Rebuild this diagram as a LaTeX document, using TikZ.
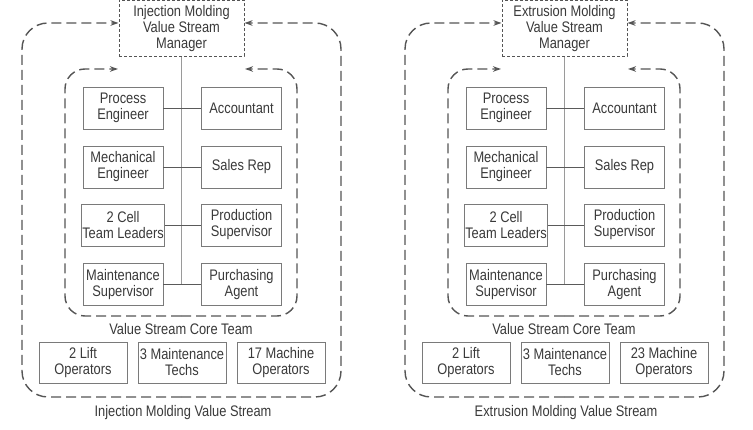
\documentclass[tikz,border=0pt]{standalone}
\usepackage{fontspec}
\setmainfont[FakeStretch=0.84]{Liberation Sans}
\usetikzlibrary{arrows.meta,calc}
\definecolor{dashgray}{HTML}{555555}
\definecolor{boxgray}{HTML}{7A7A7A}
\definecolor{linegray}{HTML}{5A5A5A}
\definecolor{vgray}{HTML}{9A9A9A}
\definecolor{txtgray}{HTML}{3A3A3A}
\newcommand\lbl{\fontsize{15.3}{16}\selectfont}
\newcommand\vspanel[5]{%
  \node[mgrbox] (#1mgr) at (181.5,28.5) {#2\\Value Stream\\Manager};
  \node[stbox] (#1l1) at (123,108) {Process\\Engineer};
  \node[stbox] (#1r1) at (241.5,108) {Accountant};
  \node[stbox] (#1l2) at (123,167) {Mechanical\\Engineer};
  \node[stbox] (#1r2) at (241.5,167) {Sales Rep};
  \node[stbox] (#1l3) at (123,225) {2 Cell\\Team Leaders};
  \node[stbox] (#1r3) at (241.5,225) {Production\\Supervisor};
  \node[stbox] (#1l4) at (123,284.5) {Maintenance\\Supervisor};
  \node[stbox] (#1r4) at (241.5,284.5) {Purchasing\\Agent};
  \draw[vline] (#1mgr.south) -- (#1mgr.south |- #1l4.east);
  \foreach \i in {1,2,3,4} {\draw[hline] (#1l\i.east) -- (#1r\i.west);}
  \node[plain] (#1core) at (181,329) {Value Stream Core Team};
  \node[opbox] (#1o1) at (83,362.5) {2 Lift\\Operators};
  \node[opbox] (#1o2) at (182,362.5) {3 Maintenance\\Techs};
  \node[opbox] (#1o3) at (281,362.5) {#3 Machine\\Operators};
  \node[plain] (#1cap) at (183,413) {#4};
  \coordinate (#1ob) at (181,397);
  \coordinate (#1obl) at (22,397);
  \coordinate (#1otl) at (22,23);
  \coordinate (#1obr) at (341,397);
  \coordinate (#1otr) at (341,23);
  \coordinate (#1ib) at (181,316);
  \coordinate (#1ibl) at (65,316);
  \coordinate (#1itl) at (65,69);
  \coordinate (#1ibr) at (297,316);
  \coordinate (#1itr) at (297,69);
  \coordinate (#1ial) at (118,69);
  \coordinate (#1iar) at (245,69);
  \draw[outerframe] (#1ob) -- (#1obl) -- (#1otl) -- (#1mgr.west |- #1otl);
  \draw[outerframe] (#1ob) -- (#1obr) -- (#1otr) -- (#1mgr.east |- #1otr);
  \draw[innerframe] (#1ib) -- (#1ibl) -- (#1itl) -- (#1ial);
  \draw[innerframe] (#1ib) -- (#1ibr) -- (#1itr) -- (#1iar);
}
\begin{document}
\begin{tikzpicture}[x=1pt,y=-1pt,
  every node/.style={text=txtgray, font=\lbl, align=center},
  stbox/.style={draw=boxgray, line width=0.8pt, minimum width=80pt, minimum height=42pt, inner sep=1pt},
  opbox/.style={draw=boxgray, line width=0.8pt, minimum width=88pt, minimum height=41pt, inner sep=1pt},
  mgrbox/.style={draw=dashgray, line width=1pt, dash pattern=on 3pt off 2pt, minimum width=125pt, minimum height=56pt, inner sep=1pt},
  plain/.style={inner sep=1pt},
  vline/.style={draw=vgray, line width=0.8pt},
  hline/.style={draw=linegray, line width=0.7pt},
  outerframe/.style={draw=dashgray, line width=1.4pt, dash pattern=on 10pt off 5pt, rounded corners=26pt, -{Stealth[length=8pt,width=5.5pt]}},
  innerframe/.style={draw=dashgray, line width=1.4pt, dash pattern=on 10pt off 5pt, rounded corners=20pt, -{Stealth[length=8pt,width=5.5pt]}}
]
\fill[white] (0,0) rectangle (753,430);
\useasboundingbox (0,0) rectangle (753,430);
\begin{scope}
\vspanel{a}{Injection Molding}{17}{Injection Molding Value Stream}{}
\end{scope}
\begin{scope}[xshift=383pt]
\vspanel{b}{Extrusion Molding}{23}{Extrusion Molding Value Stream}{}
\end{scope}
\end{tikzpicture}
\end{document}
